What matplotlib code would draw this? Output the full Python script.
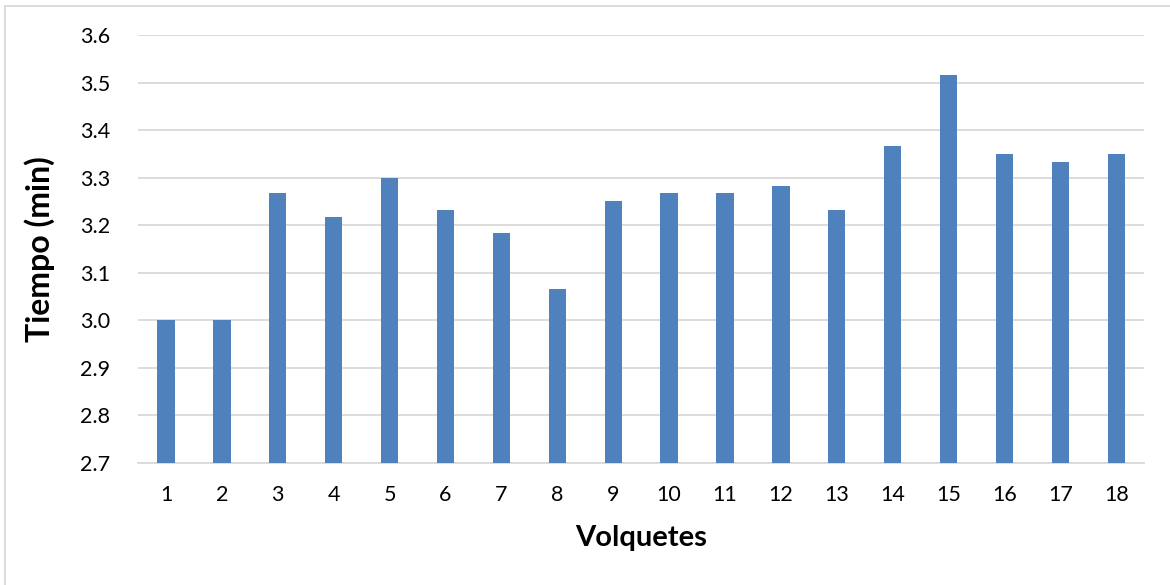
import matplotlib
matplotlib.use('Agg')
import matplotlib.pyplot as plt
from matplotlib.lines import Line2D

volquetes = [str(i) for i in range(1, 19)]
tiempo = [3.000, 3.000, 3.267, 3.217, 3.300, 3.233, 3.183, 3.067, 3.250,
          3.267, 3.267, 3.283, 3.233, 3.367, 3.517, 3.350, 3.333, 3.350]
y_ticks = [2.7, 2.8, 2.9, 3.0, 3.1, 3.2, 3.3, 3.4, 3.5, 3.6]

plt.rcParams['font.family'] = ['Lato', 'DejaVu Sans']

fig = plt.figure(figsize=(11.7, 5.85), dpi=100)
ax = fig.add_axes([0.118, 0.2085, 0.860, 0.7316])

x = range(len(volquetes))
ax.bar(x, tiempo, width=0.31, color='#4F81BD', zorder=3)

ax.set_xlim(-0.5, len(volquetes) - 0.5)
ax.set_ylim(2.7, 3.6)
ax.set_yticks(y_ticks)
ax.set_yticklabels([f'{v:.1f}' for v in y_ticks])
ax.set_xticks(list(x))
ax.set_xticklabels(volquetes)

ax.grid(axis='y', color='#D9D9D9', linewidth=1.3, zorder=0)
for s in ['top', 'right', 'left']:
    ax.spines[s].set_visible(False)
ax.spines['bottom'].set_color('#D9D9D9')
ax.spines['bottom'].set_linewidth(1.3)
ax.tick_params(axis='both', length=0, labelsize=15.5, colors='#000000')
ax.tick_params(axis='y', pad=20)
ax.tick_params(axis='x', pad=16)

ax.set_xlabel('Volquetes', fontsize=21, fontweight='bold', labelpad=14)
ax.set_ylabel('Tiempo (min)', fontsize=23, fontweight='bold', labelpad=18)

# outer chart frame (top and left edges)
fig.add_artist(Line2D([0.0043, 1], [0.99, 0.99], color='#D9D9D9', linewidth=1.3))
fig.add_artist(Line2D([0.0043, 0.0043], [0, 0.99], color='#D9D9D9', linewidth=1.3))

fig.savefig('out.png', dpi=100, facecolor='white')
